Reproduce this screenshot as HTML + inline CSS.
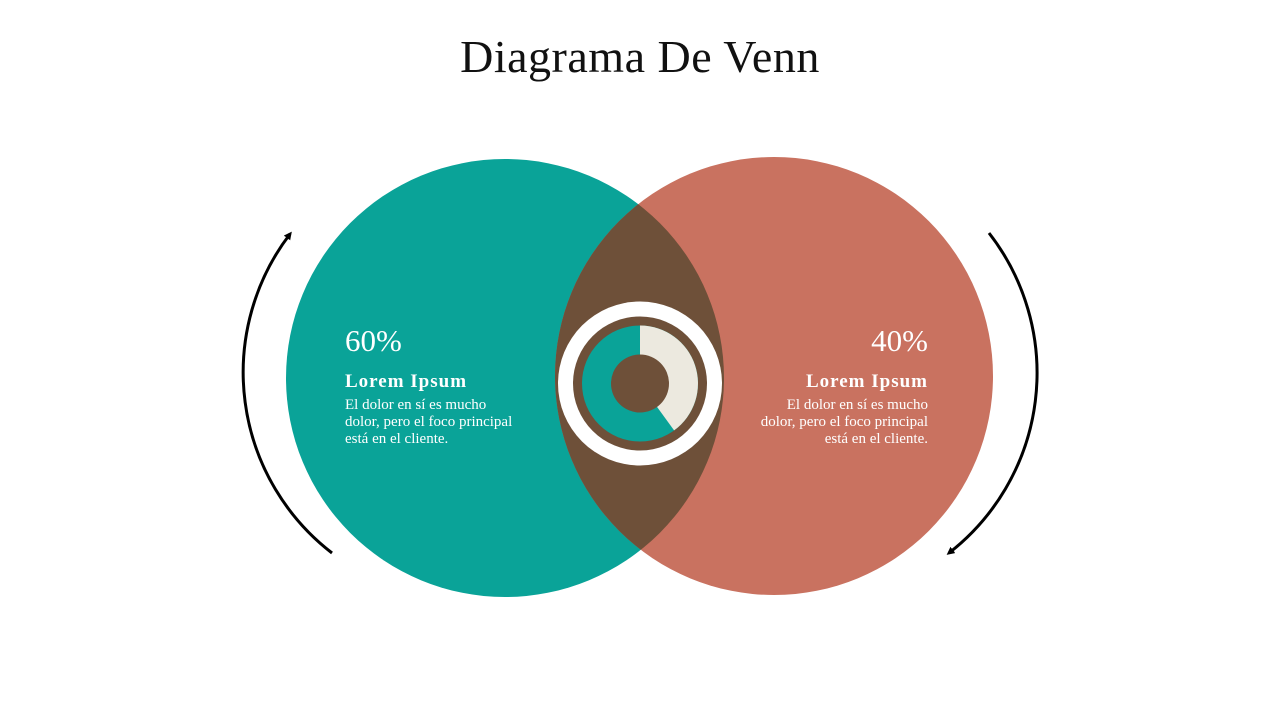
<!DOCTYPE html>
<html><head><meta charset="utf-8"><style>
body{margin:0;width:1280px;height:720px;background:#fff;overflow:hidden;font-family:"Liberation Serif",serif}
</style></head><body>
<svg width="1280" height="720" viewBox="0 0 1280 720" xmlns="http://www.w3.org/2000/svg">
<defs>
<clipPath id="c"><circle cx="505" cy="378" r="219"/></clipPath>
<marker id="ah" markerWidth="8" markerHeight="8" refX="5" refY="4" orient="auto" markerUnits="userSpaceOnUse"><path d="M0,0 L8,4 L0,8 z" fill="#000"/></marker>
</defs>
<text x="640" y="72" text-anchor="middle" font-family="Liberation Serif, serif" font-size="46" fill="#111" letter-spacing="0.5">Diagrama De Venn</text>
<circle cx="505" cy="378" r="219" fill="#0aa398"/>
<circle cx="774" cy="376" r="219" fill="#c97260"/>
<circle cx="774" cy="376" r="219" fill="#6e5039" clip-path="url(#c)"/>
<path d="M332 553 A 228 228 0 0 1 290 234" fill="none" stroke="#000" stroke-width="3" marker-end="url(#ah)"/>
<path d="M989 233 A 228 228 0 0 1 949 553" fill="none" stroke="#000" stroke-width="3" marker-end="url(#ah)"/>
<circle cx="640" cy="383.5" r="82" fill="#fff"/>
<circle cx="640" cy="383.5" r="67" fill="#6e5039"/>
<circle cx="640" cy="383.5" r="58" fill="#0aa398"/>
<path d="M640 383.5 L640 325.5 A58 58 0 0 1 674.1 430.4 Z" fill="#ece9df"/>
<circle cx="640" cy="383.5" r="29" fill="#6e5039"/>
<g fill="#fff" font-family="Liberation Serif, serif">
<text x="345" y="351" font-size="31">60%</text>
<text x="345" y="387" font-size="19" font-weight="bold" letter-spacing="1">Lorem Ipsum</text>
<text x="345" y="409" font-size="15">El dolor en sí es mucho</text>
<text x="345" y="426" font-size="15">dolor, pero el foco principal</text>
<text x="345" y="443" font-size="15">está en el cliente.</text>
<g text-anchor="end">
<text x="928" y="351" font-size="31">40%</text>
<text x="928" y="387" font-size="19" font-weight="bold" letter-spacing="1">Lorem Ipsum</text>
<text x="928" y="409" font-size="15">El dolor en sí es mucho</text>
<text x="928" y="426" font-size="15">dolor, pero el foco principal</text>
<text x="928" y="443" font-size="15">está en el cliente.</text>
</g></g>
</svg>
</body></html>
